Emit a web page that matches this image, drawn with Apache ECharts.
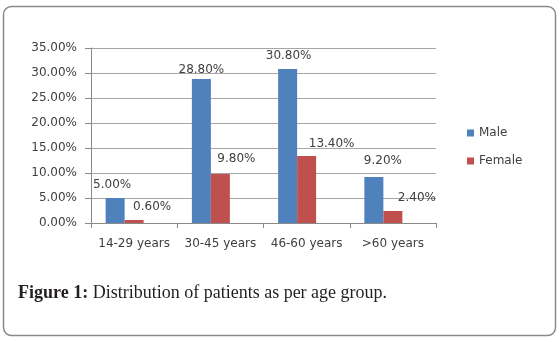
<!DOCTYPE html>
<html>
<head>
<meta charset="utf-8">
<script src="https://cdn.jsdelivr.net/npm/echarts@6/dist/echarts.min.js"></script>
<style>
  html, body { margin: 0; padding: 0; background: #fff; }
  #main { width: 560px; height: 342px; }
</style>
</head>
<body>
<div id="main"></div>
<script>
  // data (percent)
  const categories = ['14-29 years', '30-45 years', '46-60 years', '>60 years']
  const male = [5.0, 28.8, 30.8, 9.2]
  const female = [0.6, 9.8, 13.4, 2.4]
  const yTicks = { min: 0, max: 35, interval: 5 }

  // excel put the value labels a bit off the bar centres
  const maleShift = [[-3, 0], [0, 4], [1, 0], [9, -3]]
  const femaleShift = [[18, 0], [16, -2], [25, 1], [24, 0]]

  const labelFont = { fontFamily: 'DejaVu Sans', fontSize: 12, color: '#404040' }

  function withLabels(values, shift) {
    return values.map((v, i) => ({
      value: v,
      label: { offset: shift[i] }
    }))
  }

  const myChart = echarts.init(document.getElementById('main'))
  const option = {
    animation: false,
    title: {
      text: '{b|Figure 1:}{n| Distribution of patients as per age group.}',
      left: 13,
      top: 279,
      textStyle: {
        fontWeight: 'normal',
        rich: {
          b: { fontFamily: 'Liberation Serif', fontSize: 18, fontWeight: 'bold', color: '#231f20' },
          n: { fontFamily: 'Liberation Serif', fontSize: 18, fontWeight: 'normal', color: '#231f20' }
        }
      }
    },
    graphic: [{
      type: 'rect',
      shape: { x: 3.5, y: 6.5, width: 552, height: 329, r: 8 },
      style: { fill: 'none', stroke: '#8a8a8a', lineWidth: 1.5 },
      silent: true
    }],
    legend: {
      data: ['Male', 'Female'],
      orient: 'vertical',
      left: 462,
      top: 122,
      itemWidth: 7,
      itemHeight: 7,
      itemGap: 16,
      icon: 'rect',
      textStyle: Object.assign({ lineHeight: 12 }, labelFont)
    },
    grid: { left: 91, right: 124, top: 48, bottom: 119 },
    xAxis: {
      type: 'category',
      data: categories,
      axisLine: { lineStyle: { color: '#8a8a8a' } },
      axisTick: { show: true, length: 5, lineStyle: { color: '#8a8a8a' } },
      axisLabel: Object.assign({ margin: 15, interval: 0 }, labelFont)
    },
    yAxis: {
      type: 'value',
      min: yTicks.min,
      max: yTicks.max,
      interval: yTicks.interval,
      axisLine: { show: true, lineStyle: { color: '#8a8a8a' } },
      axisTick: { show: true, length: 6, lineStyle: { color: '#8a8a8a' } },
      splitLine: { lineStyle: { color: '#a6a6a6' } },
      axisLabel: Object.assign({ margin: 14, formatter: v => v.toFixed(2) + '%' }, labelFont)
    },
    series: [{
        name: 'Male',
        type: 'bar',
        barWidth: 19,
        barGap: '0%',
        itemStyle: { color: '#4f81bd' },
        label: Object.assign({ show: true, position: 'top', distance: 7, formatter: p => p.value.toFixed(2) + '%' }, labelFont),
        data: withLabels(male, maleShift)
      },
      {
        name: 'Female',
        type: 'bar',
        barWidth: 19,
        barGap: '0%',
        itemStyle: { color: '#c0504d' },
        label: Object.assign({ show: true, position: 'top', distance: 7, formatter: p => p.value.toFixed(2) + '%' }, labelFont),
        data: withLabels(female, femaleShift)
      },
      {
        // empty slot so the pair sits left of the category centre like the original
        name: 'gap',
        type: 'bar',
        barWidth: 19,
        barGap: '0%',
        silent: true,
        itemStyle: { color: 'transparent' },
        data: categories.map(() => null)
      }
    ]
  }
  myChart.setOption(option)
</script>
</body>
</html>
